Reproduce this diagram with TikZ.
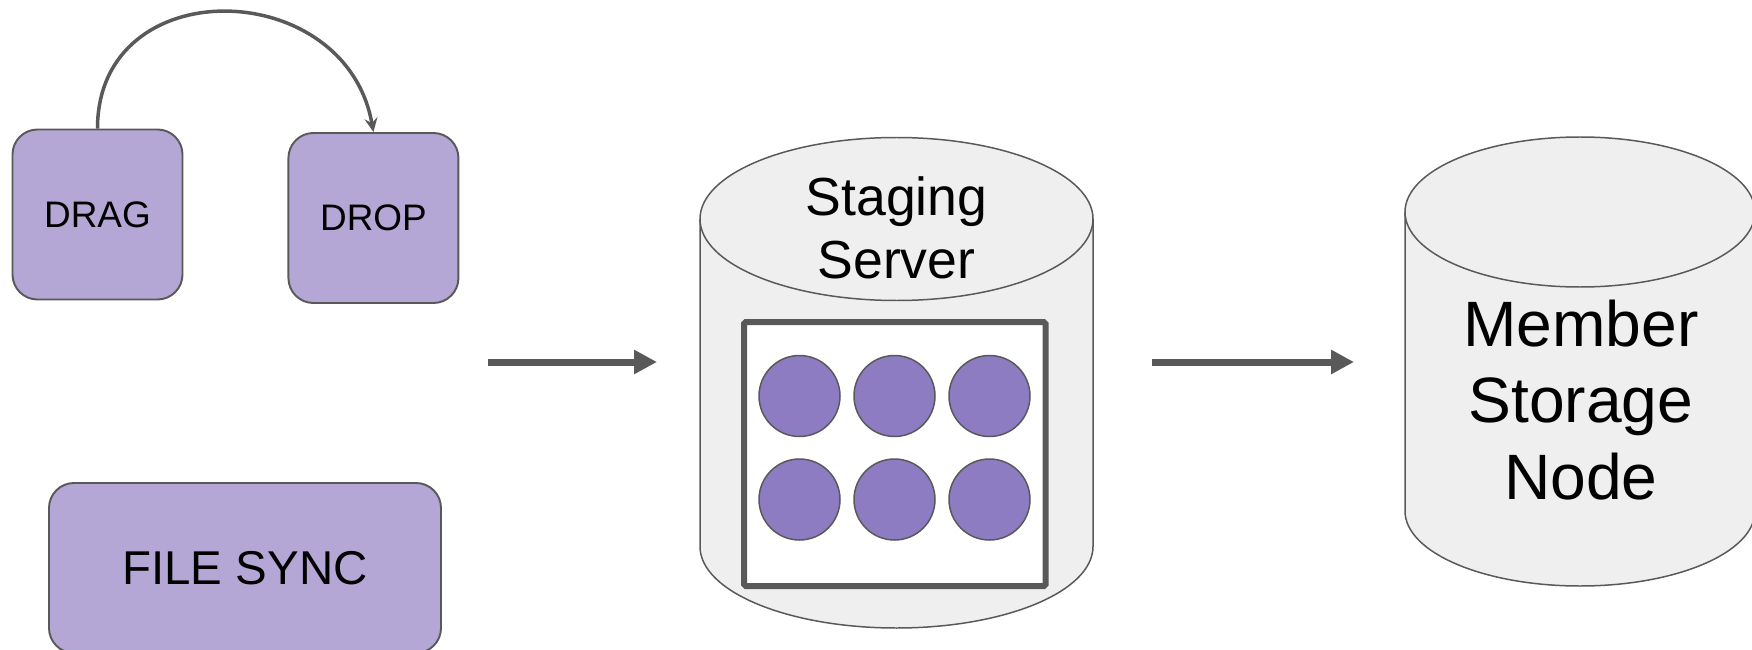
\documentclass[tikz,border=0pt]{standalone}
\usepackage{fontspec}
\setmainfont{Liberation Sans}
\usetikzlibrary{arrows.meta,positioning}
\definecolor{taskfill}{HTML}{B4A7D6}
\definecolor{filefill}{HTML}{8E7CC3}
\definecolor{storefill}{HTML}{EFEFEF}
\definecolor{linegray}{HTML}{595959}
\newcommand{\Size}[2]{\fontsize{#1}{#2}\selectfont}
% cylinder round a node: #1 node, #2 x radius, #3 y radius
\newcommand{\Can}[3]{%
    \draw[store] ([yshift=-#3]#1.north west) -- ([yshift=#3]#1.south west)
        arc[start angle=180, end angle=360, x radius=#2, y radius=#3]
        -- ([yshift=-#3]#1.north east)
        arc[start angle=0, end angle=180, x radius=#2, y radius=#3] -- cycle;
    \draw[store, fill=none] ([yshift=-#3]#1.north west)
        arc[start angle=180, end angle=360, x radius=#2, y radius=#3];}

\begin{document}
\begin{tikzpicture}[node distance=2.08cm,
    task/.style={draw=linegray, line width=1.1pt, fill=taskfill, rounded corners=0.5cm,
        minimum width=3.4cm, minimum height=3.4cm, font=\Size{21}{25}},
    store/.style={draw=linegray, line width=0.85pt, fill=storefill},
    body/.style={inner sep=0pt, outer sep=0pt},
    file/.style={circle, draw=linegray, line width=0.85pt, fill=filefill,
        minimum size=1.62cm, inner sep=0pt},
    flow/.style={-{Triangle[length=0.46cm, width=0.46cm]}, line width=0.14cm, linegray}]
    \useasboundingbox (0,0) rectangle (35.04,12.98);

    \node (drag) [task] at (1.95,8.69) {DRAG};
    \node (drop) [task, right=of drag, yshift=-0.07cm] {DROP};
    \node (sync) [task, minimum width=7.84cm, font=\Size{27}{32}] at (4.9,1.62) {FILE SYNC};
    \draw[-{Stealth[length=0.28cm, width=0.26cm, inset=0.1cm]}, line width=0.07cm, linegray]
        (drag.north) to[out=90, in=100, looseness=1.47] (drop.north);

    \node (stage) [body, minimum width=7.86cm, minimum height=9.81cm] at (17.93,5.325) {};
    \Can{stage}{3.93cm}{1.63cm}
    \node (stagetext) [align=center, font=\Size{30.5}{36}] at (17.93,8.42) {Staging\\Server};
    \node (tray) [draw=linegray, line width=0.12cm, fill=white, rounded corners=1pt,
        minimum width=6.03cm, minimum height=5.28cm] at (17.895,3.9) {};
    \foreach \row in {0,1}
        \foreach \col in {0,1,2}
            \node (file\row\col) [file] at (15.99+1.9*\col, 5.06-2.07*\row) {};

    \node (member) [body, minimum width=7cm, minimum height=8.98cm] at (31.6,5.75) {};
    \Can{member}{3.5cm}{1.5cm}
    \node (membertext) [align=center, font=\Size{36.5}{43.5}] at (31.62,4.985) {Member\\Storage\\Node};

    \coordinate (level) at (0,5.74);
    \draw[flow, shorten <=0.57cm, shorten >=0.86cm] (drop.east |- level) -- (stage.west |- level);
    \draw[flow, shorten <=1.18cm, shorten >=1.02cm] (stage.east |- level) -- (member.west |- level);
\end{tikzpicture}
\end{document}
